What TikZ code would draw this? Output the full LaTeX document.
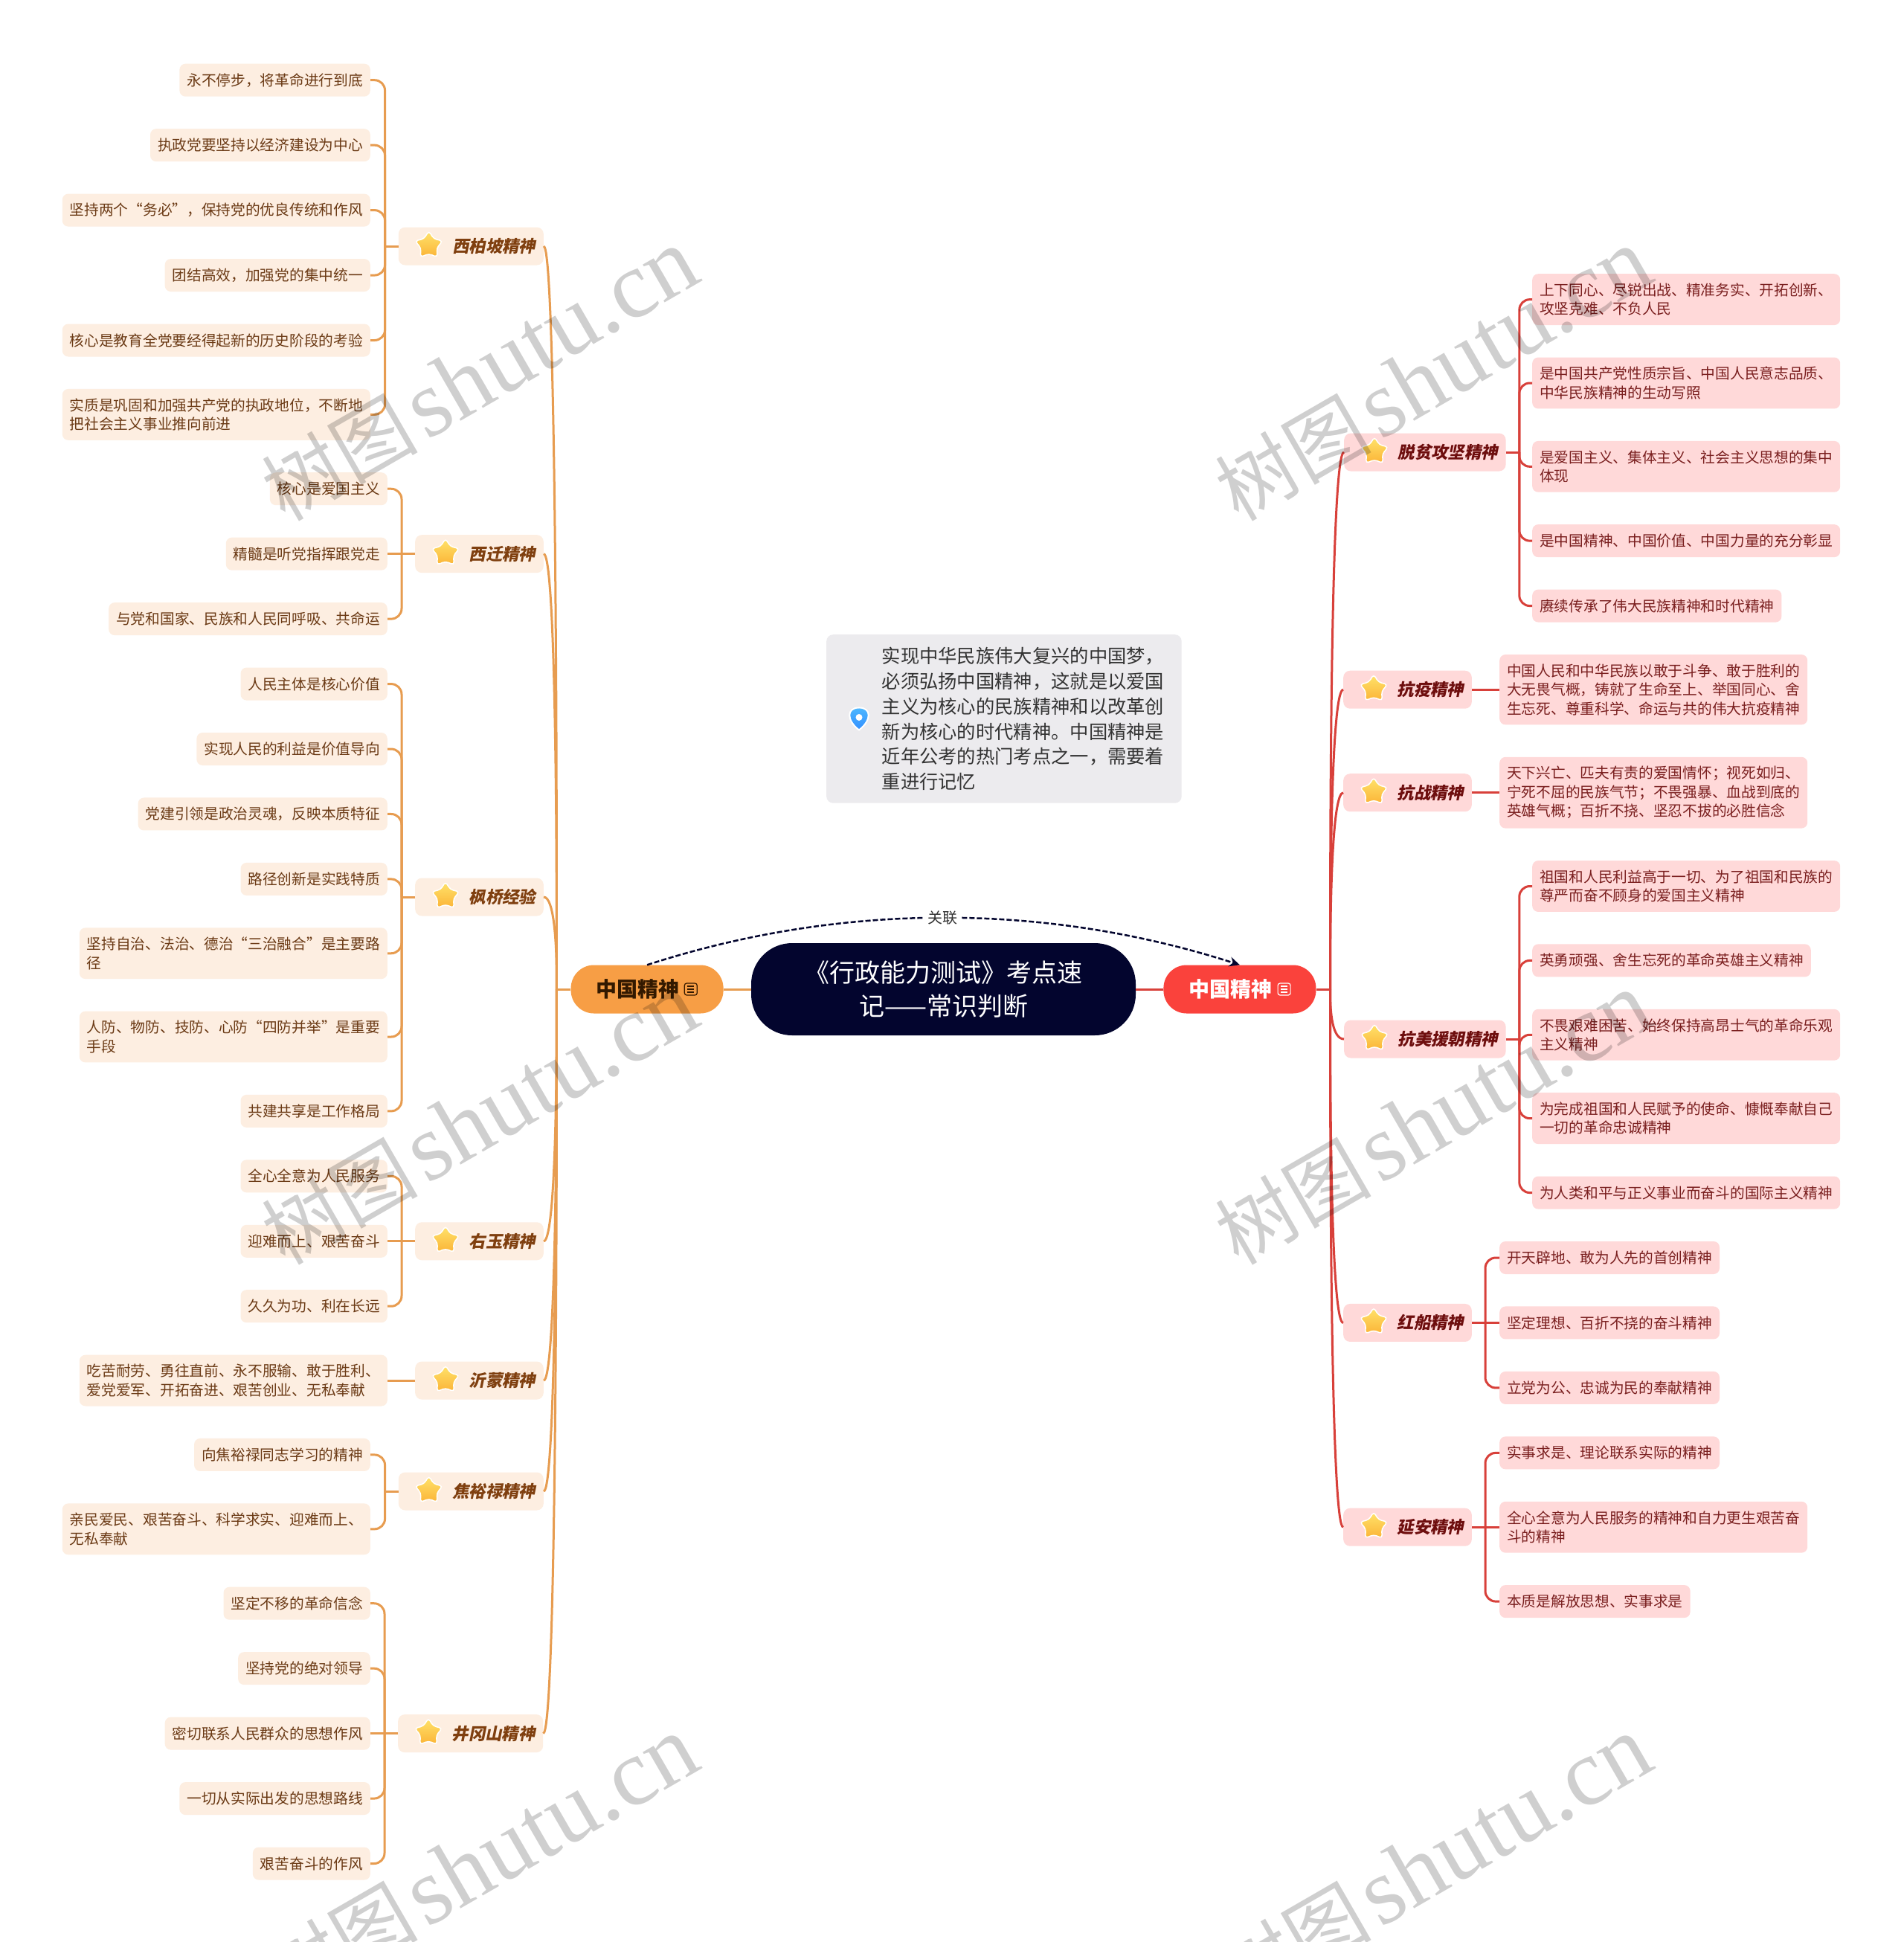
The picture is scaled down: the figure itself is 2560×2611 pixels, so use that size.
\documentclass[tikz,border=0pt]{standalone}
\usepackage{fontspec}
\setmainfont{Noto Sans CJK SC}
\newfontfamily\topicfont[FakeSlant=0.2,BoldFeatures={FakeSlant=0.2}]{Noto Sans CJK SC}
\newfontfamily\markfont{Liberation Serif}
\usetikzlibrary{arrows.meta, positioning, shapes.geometric}
\definecolor{rootnavy}{HTML}{03052E}
\definecolor{orangenode}{HTML}{F79E45}
\definecolor{orangeline}{HTML}{E79C50}
\definecolor{orangeleaf}{HTML}{FDEEE1}
\definecolor{orangetext}{HTML}{6B3A15}
\definecolor{orangehead}{HTML}{7F3F0F}
\definecolor{rednode}{HTML}{FA423C}
\definecolor{redline}{HTML}{D8403A}
\definecolor{redleaf}{HTML}{FFD9D9}
\definecolor{redtext}{HTML}{7A1F1F}
\definecolor{redhead}{HTML}{6E0E0E}
\definecolor{notegray}{HTML}{ECEBEE}
\definecolor{startop}{HTML}{FFE36B}
\definecolor{starbot}{HTML}{FBB437}

\begin{document}
\begin{tikzpicture}[x=1pt, y=-1pt,
    leaf/.style={rectangle, rounded corners=8pt, inner xsep=10pt, inner ysep=12.5pt, minimum height=44pt, align=left, font=\fontsize{19.7}{25.5}\selectfont},
    lleaf/.style={leaf, fill=orangeleaf, text=orangetext},
    rleaf/.style={leaf, fill=redleaf, text=redtext},
    lchain/.style={below=43.05pt of #1.south east, anchor=north east},
    rchain/.style={below=43.05pt of #1.south west, anchor=north west},
    topic/.style={rectangle, rounded corners=9pt, inner xsep=10.5pt, inner ysep=0pt, minimum height=51pt, font=\fontsize{22.4}{26}\topicfont\bfseries, execute at begin node=\hspace*{62pt}},
    ltopic/.style={topic, fill=orangeleaf, text=orangehead},
    rtopic/.style={topic, fill=redleaf, text=redhead},
    starmark/.style={star, star points=5, star point ratio=1.75, minimum size=39pt, inner sep=0pt, rounded corners=4pt, draw=white, line width=1.5pt, top color=startop, bottom color=starbot},
    branchnode/.style={rectangle, rounded corners=31pt, minimum width=205pt, minimum height=65pt, inner sep=0pt, font=\fontsize{28}{32}\selectfont\bfseries, execute at end node=\hspace*{25pt}},
    noteicon/.style={draw=#1, rectangle, rounded corners=3pt, line width=1.2pt, minimum width=17pt, minimum height=16pt, inner sep=0pt, path picture={\foreach \iy in {-4,0,4} \draw[#1, line width=1.2pt] ([yshift=\iy pt]path picture bounding box.west) ++(4,0) -- ++(9,0);}},
    lconn/.style={draw=orangeline, line width=3pt, rounded corners=14pt},
    rconn/.style={draw=redline, line width=3pt, rounded corners=14pt},
    watermark/.style={rotate=30, anchor=east, text=black, opacity=0.19, inner sep=0pt, font=\fontsize{105}{126}\selectfont}]

    \path[use as bounding box, clip] (0,0) rectangle (2560,2611);
    \fill[white] (0,0) rectangle (2560,2611);

    % Root
    \node[rectangle, rounded corners=55pt, fill=rootnavy, text=white, minimum width=517pt, minimum height=124pt, align=center, font=\fontsize{34}{45}\selectfont] (root) at (1268.5,1330) {《行政能力测试》考点速\\记——常识判断};
    \node[branchnode, fill=orangenode, text=black!80!orange, left=37pt of root] (zgl) {中国精神};
    \node[branchnode, fill=rednode, text=white, right=37pt of root] (zgr) {中国精神};
    \node[noteicon=black!80!orange, left=44pt of zgl.east, anchor=center] (zglicon) {};
    \node[noteicon=white, left=43pt of zgr.east, anchor=center] (zgricon) {};
    \coordinate[left=19pt of zgl.west] (zglfork);
    \coordinate[right=19pt of zgr.east] (zgrfork);
    \draw[lconn] (root.west) -- (zgl.east);
    \draw[rconn] (root.east) -- (zgr.west);
    \draw[lconn] (zgl.west) -- (zglfork);
    \draw[rconn] (zgr.east) -- (zgrfork);

    % Note
    \node[rectangle, rounded corners=9pt, fill=notegray, minimum width=477.5pt, minimum height=226.5pt, inner sep=0pt, anchor=north west] (note) at (1111,853) {};
    \node[right=74.5pt of note.west, anchor=west, inner sep=0pt, align=left, text=black!80, font=\fontsize{25.3}{33.9}\selectfont] (notetxt) {实现中华民族伟大复兴的中国梦，\\必须弘扬中国精神，这就是以爱国\\主义为核心的民族精神和以改革创\\新为核心的时代精神。中国精神是\\近年公考的热门考点之一，需要着\\重进行记忆};
    \coordinate[right=44pt of note.west] (pin);
    \draw[draw=white, line width=2pt, top color=cyan!60!blue!70!white, bottom color=blue!55!cyan!80!white] (pin) ++(0,15) .. controls +(-17,-13) and +(-17,0) .. ++(0,-30) .. controls +(17,0) and +(17,-13) .. ++(0,30) -- cycle;
    \fill[white] (pin) ++(0,-2) circle (4.5pt);

    % Dashed relation
    \draw[draw=rootnavy, line width=2.5pt, dash pattern=on 7pt off 3pt, -{Stealth[length=14pt, width=13pt]}] (zgl.north) .. controls (1130,1213) and (1405,1213) .. (zgr.north) node[midway, fill=white, inner xsep=5pt, inner ysep=1pt, text=black!80, font=\fontsize{20}{24}\selectfont] (rel) {关联};

    % Left: 西柏坡
    \node[lleaf, anchor=north east] (xbpa) at (498,85.5) {永不停步，将革命进行到底};
    \node[lleaf, lchain=xbpa] (xbpb) {执政党要坚持以经济建设为中心};
    \node[lleaf, lchain=xbpb] (xbpc) {坚持两个“务必”，保持党的优良传统和作风};
    \node[lleaf, lchain=xbpc] (xbpd) {团结高效，加强党的集中统一};
    \node[lleaf, lchain=xbpd] (xbpe) {核心是教育全党要经得起新的历史阶段的考验};
    \node[lleaf, lchain=xbpe] (xbpf) {实质是巩固和加强共产党的执政地位，不断地\\把社会主义事业推向前进};
    \node[ltopic, anchor=east] (xbp) at (731,331) {西柏坡精神};
    \node[starmark, right=41pt of xbp.west, anchor=center, yshift=1pt] (xbpstar) {};
    \coordinate[left=18pt of xbp.west] (xbpfork);
    \draw[lconn] (xbp.west) -- (xbpfork);
    \draw[lconn] (xbpfork) |- (xbpa.east);
    \draw[lconn] (xbpfork) |- (xbpb.east);
    \draw[lconn] (xbpfork) |- (xbpc.east);
    \draw[lconn] (xbpfork) |- (xbpd.east);
    \draw[lconn] (xbpfork) |- (xbpe.east);
    \draw[lconn] (xbpfork) |- (xbpf.east);

    % Left: 西迁
    \node[lleaf, lchain=xbpf, xshift=23pt] (xqa) {核心是爱国主义};
    \node[lleaf, lchain=xqa] (xqb) {精髓是听党指挥跟党走};
    \node[lleaf, lchain=xqb] (xqc) {与党和国家、民族和人民同呼吸、共命运};
    \node[ltopic, right=37pt of xqb] (xq) {西迁精神};
    \node[starmark, right=41pt of xq.west, anchor=center, yshift=1pt] (xqstar) {};
    \coordinate[left=18pt of xq.west] (xqfork);
    \draw[lconn] (xq.west) -- (xqb.east);
    \draw[lconn] (xqfork) |- (xqa.east);
    \draw[lconn] (xqfork) |- (xqc.east);

    % Left: 枫桥
    \node[lleaf, lchain=xqc] (fqa) {人民主体是核心价值};
    \node[lleaf, lchain=fqa] (fqb) {实现人民的利益是价值导向};
    \node[lleaf, lchain=fqb] (fqc) {党建引领是政治灵魂，反映本质特征};
    \node[lleaf, lchain=fqc] (fqd) {路径创新是实践特质};
    \node[lleaf, lchain=fqd] (fqe) {坚持自治、法治、德治“三治融合”是主要路\\径};
    \node[lleaf, lchain=fqe] (fqf) {人防、物防、技防、心防“四防并举”是重要\\手段};
    \node[lleaf, lchain=fqf] (fqg) {共建共享是工作格局};
    \node[ltopic, anchor=east] (fq) at (731,1206) {枫桥经验};
    \node[starmark, right=41pt of fq.west, anchor=center, yshift=1pt] (fqstar) {};
    \coordinate[left=18pt of fq.west] (fqfork);
    \draw[lconn] (fq.west) -- (fqfork);
    \draw[lconn] (fqfork) |- (fqa.east);
    \draw[lconn] (fqfork) |- (fqb.east);
    \draw[lconn] (fqfork) |- (fqc.east);
    \draw[lconn] (fqfork) |- (fqd.east);
    \draw[lconn] (fqfork) |- (fqe.east);
    \draw[lconn] (fqfork) |- (fqf.east);
    \draw[lconn] (fqfork) |- (fqg.east);

    % Left: 右玉
    \node[lleaf, lchain=fqg] (yya) {全心全意为人民服务};
    \node[lleaf, lchain=yya] (yyb) {迎难而上、艰苦奋斗};
    \node[lleaf, lchain=yyb] (yyc) {久久为功、利在长远};
    \node[ltopic, right=37pt of yyb] (yy) {右玉精神};
    \node[starmark, right=41pt of yy.west, anchor=center, yshift=1pt] (yystar) {};
    \coordinate[left=18pt of yy.west] (yyfork);
    \draw[lconn] (yy.west) -- (yyb.east);
    \draw[lconn] (yyfork) |- (yya.east);
    \draw[lconn] (yyfork) |- (yyc.east);

    % Left: 沂蒙
    \node[lleaf, lchain=yyc] (yma) {吃苦耐劳、勇往直前、永不服输、敢于胜利、\\爱党爱军、开拓奋进、艰苦创业、无私奉献};
    \node[ltopic, right=37pt of yma] (ym) {沂蒙精神};
    \node[starmark, right=41pt of ym.west, anchor=center, yshift=1pt] (ymstar) {};
    \draw[lconn] (ym.west) -- (yma.east);

    % Left: 焦裕禄
    \node[lleaf, lchain=yma, xshift=-23pt] (jyla) {向焦裕禄同志学习的精神};
    \node[lleaf, lchain=jyla] (jylb) {亲民爱民、艰苦奋斗、科学求实、迎难而上、\\无私奉献};
    \node[ltopic, anchor=east] (jyl) at (731,2005) {焦裕禄精神};
    \node[starmark, right=41pt of jyl.west, anchor=center, yshift=1pt] (jylstar) {};
    \coordinate[left=18pt of jyl.west] (jylfork);
    \draw[lconn] (jyl.west) -- (jylfork);
    \draw[lconn] (jylfork) |- (jyla.east);
    \draw[lconn] (jylfork) |- (jylb.east);

    % Left: 井冈山
    \node[lleaf, lchain=jylb] (jgsa) {坚定不移的革命信念};
    \node[lleaf, lchain=jgsa] (jgsb) {坚持党的绝对领导};
    \node[lleaf, lchain=jgsb] (jgsc) {密切联系人民群众的思想作风};
    \node[lleaf, lchain=jgsc] (jgsd) {一切从实际出发的思想路线};
    \node[lleaf, lchain=jgsd] (jgse) {艰苦奋斗的作风};
    \node[ltopic, right=37pt of jgsc] (jgs) {井冈山精神};
    \node[starmark, right=41pt of jgs.west, anchor=center, yshift=1pt] (jgsstar) {};
    \coordinate[left=18pt of jgs.west] (jgsfork);
    \draw[lconn] (jgs.west) -- (jgsc.east);
    \draw[lconn] (jgsfork) |- (jgsa.east);
    \draw[lconn] (jgsfork) |- (jgsb.east);
    \draw[lconn] (jgsfork) |- (jgsd.east);
    \draw[lconn] (jgsfork) |- (jgse.east);

    % Left trunk
    \draw[lconn] (zglfork) .. controls (749,830) and (745,331) .. (xbp.east);
    \draw[lconn] (zglfork) .. controls (749,1037) and (745,745) .. (xq.east);
    \draw[lconn] (zglfork) .. controls (749,1268) and (745,1206) .. (fq.east);
    \draw[lconn] (zglfork) .. controls (749,1499) and (745,1668) .. (yy.east);
    \draw[lconn] (zglfork) .. controls (749,1592) and (745,1855) .. (ym.east);
    \draw[lconn] (zglfork) .. controls (749,1667) and (745,2005) .. (jyl.east);
    \draw[lconn] (zglfork) .. controls (749,1829) and (745,2329) .. (jgs.east);

    % Right: 脱贫攻坚
    \node[rleaf, anchor=north west] (tpa) at (2060,368) {上下同心、尽锐出战、精准务实、开拓创新、\\攻坚克难、不负人民};
    \node[rleaf, rchain=tpa] (tpb) {是中国共产党性质宗旨、中国人民意志品质、\\中华民族精神的生动写照};
    \node[rleaf, rchain=tpb] (tpc) {是爱国主义、集体主义、社会主义思想的集中\\体现};
    \node[rleaf, rchain=tpc] (tpd) {是中国精神、中国价值、中国力量的充分彰显};
    \node[rleaf, rchain=tpd] (tpe) {赓续传承了伟大民族精神和时代精神};
    \node[rtopic, anchor=west] (tp) at (1807,608) {脱贫攻坚精神};
    \node[starmark, right=41pt of tp.west, anchor=center, yshift=1pt] (tpstar) {};
    \coordinate[right=18pt of tp.east] (tpfork);
    \draw[rconn] (tp.east) -- (tpfork);
    \draw[rconn] (tpfork) |- (tpa.west);
    \draw[rconn] (tpfork) |- (tpb.west);
    \draw[rconn] (tpfork) |- (tpc.west);
    \draw[rconn] (tpfork) |- (tpd.west);
    \draw[rconn] (tpfork) |- (tpe.west);

    % Right: 抗疫
    \node[rleaf, rchain=tpe, xshift=-44pt] (kya) {中国人民和中华民族以敢于斗争、敢于胜利的\\大无畏气概，铸就了生命至上、举国同心、舍\\生忘死、尊重科学、命运与共的伟大抗疫精神};
    \node[rtopic, left=37pt of kya] (ky) {抗疫精神};
    \node[starmark, right=41pt of ky.west, anchor=center, yshift=1pt] (kystar) {};
    \draw[rconn] (ky.east) -- (kya.west);

    % Right: 抗战
    \node[rleaf, rchain=kya] (kza) {天下兴亡、匹夫有责的爱国情怀；视死如归、\\宁死不屈的民族气节；不畏强暴、血战到底的\\英雄气概；百折不挠、坚忍不拔的必胜信念};
    \node[rtopic, left=37pt of kza] (kz) {抗战精神};
    \node[starmark, right=41pt of kz.west, anchor=center, yshift=1pt] (kzstar) {};
    \draw[rconn] (kz.east) -- (kza.west);

    % Right: 抗美援朝
    \node[rleaf, rchain=kza, xshift=44pt] (kmyca) {祖国和人民利益高于一切、为了祖国和民族的\\尊严而奋不顾身的爱国主义精神};
    \node[rleaf, rchain=kmyca] (kmycb) {英勇顽强、舍生忘死的革命英雄主义精神};
    \node[rleaf, rchain=kmycb] (kmycc) {不畏艰难困苦、始终保持高昂士气的革命乐观\\主义精神};
    \node[rleaf, rchain=kmycc] (kmycd) {为完成祖国和人民赋予的使命、慷慨奉献自己\\一切的革命忠诚精神};
    \node[rleaf, rchain=kmycd] (kmyce) {为人类和平与正义事业而奋斗的国际主义精神};
    \node[rtopic, anchor=west] (kmyc) at (1807,1397) {抗美援朝精神};
    \node[starmark, right=41pt of kmyc.west, anchor=center, yshift=1pt] (kmycstar) {};
    \coordinate[right=18pt of kmyc.east] (kmycfork);
    \draw[rconn] (kmyc.east) -- (kmycfork);
    \draw[rconn] (kmycfork) |- (kmyca.west);
    \draw[rconn] (kmycfork) |- (kmycb.west);
    \draw[rconn] (kmycfork) |- (kmycc.west);
    \draw[rconn] (kmycfork) |- (kmycd.west);
    \draw[rconn] (kmycfork) |- (kmyce.west);

    % Right: 红船
    \node[rleaf, rchain=kmyce, xshift=-44pt] (hca) {开天辟地、敢为人先的首创精神};
    \node[rleaf, rchain=hca] (hcb) {坚定理想、百折不挠的奋斗精神};
    \node[rleaf, rchain=hcb] (hcc) {立党为公、忠诚为民的奉献精神};
    \node[rtopic, left=37pt of hcb] (hc) {红船精神};
    \node[starmark, right=41pt of hc.west, anchor=center, yshift=1pt] (hcstar) {};
    \coordinate[right=18pt of hc.east] (hcfork);
    \draw[rconn] (hc.east) -- (hcb.west);
    \draw[rconn] (hcfork) |- (hca.west);
    \draw[rconn] (hcfork) |- (hcc.west);

    % Right: 延安
    \node[rleaf, rchain=hcc] (yaa) {实事求是、理论联系实际的精神};
    \node[rleaf, rchain=yaa] (yab) {全心全意为人民服务的精神和自力更生艰苦奋\\斗的精神};
    \node[rleaf, rchain=yab] (yac) {本质是解放思想、实事求是};
    \node[rtopic, left=37pt of yab] (ya) {延安精神};
    \node[starmark, right=41pt of ya.west, anchor=center, yshift=1pt] (yastar) {};
    \coordinate[right=18pt of ya.east] (yafork);
    \draw[rconn] (ya.east) -- (yab.west);
    \draw[rconn] (yafork) |- (yaa.west);
    \draw[rconn] (yafork) |- (yac.west);

    % Right trunk
    \draw[rconn] (zgrfork) .. controls (1788,969) and (1792,608) .. (tp.west);
    \draw[rconn] (zgrfork) .. controls (1788,1129) and (1792,928) .. (ky.west);
    \draw[rconn] (zgrfork) .. controls (1788,1198) and (1792,1066) .. (kz.west);
    \draw[rconn] (zgrfork) .. controls (1788,1364) and (1792,1397) .. (kmyc.west);
    \draw[rconn] (zgrfork) .. controls (1788,1555) and (1792,1779) .. (hc.west);
    \draw[rconn] (zgrfork) .. controls (1788,1692) and (1792,2054) .. (ya.west);

    % Watermark
    \node[watermark] (wma) at (927,342) {树图\hspace{10pt}{\markfont\fontsize{128}{136}\selectfont shutu.cn}};
    \node[watermark] (wmb) at (2209,342) {树图\hspace{10pt}{\markfont\fontsize{128}{136}\selectfont shutu.cn}};
    \node[watermark] (wmc) at (927,1342) {树图\hspace{10pt}{\markfont\fontsize{128}{136}\selectfont shutu.cn}};
    \node[watermark] (wmd) at (2209,1342) {树图\hspace{10pt}{\markfont\fontsize{128}{136}\selectfont shutu.cn}};
    \node[watermark] (wme) at (927,2342) {树图\hspace{10pt}{\markfont\fontsize{128}{136}\selectfont shutu.cn}};
    \node[watermark] (wmf) at (2209,2342) {树图\hspace{10pt}{\markfont\fontsize{128}{136}\selectfont shutu.cn}};
\end{tikzpicture}
\end{document}
